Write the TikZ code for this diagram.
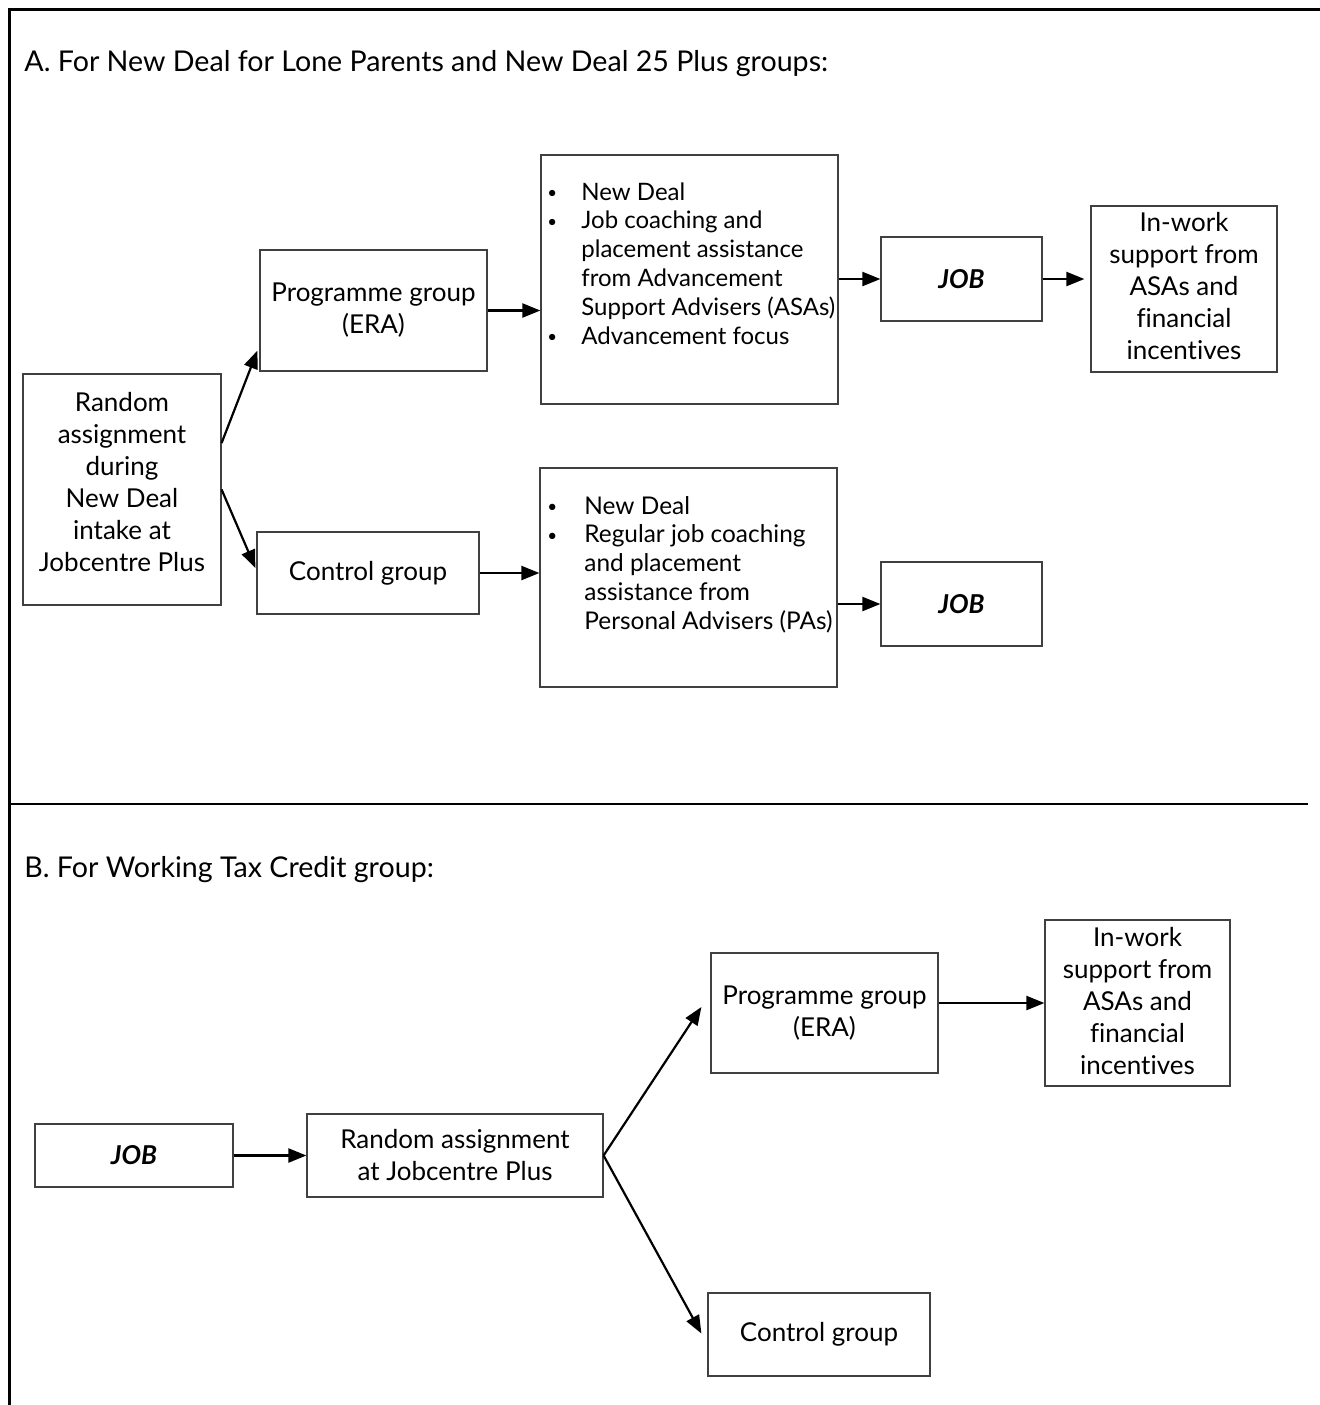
\documentclass[tikz,border=0pt]{standalone}
\usepackage{fontspec}
\setmainfont[Ligatures=NoCommon]{Lato}
\usetikzlibrary{arrows.meta,calc}
\newcommand\sbul{\raisebox{0.12ex}{\scalebox{0.7}{\textbullet}}}
\tikzset{
  box/.style={draw=black!75, line width=0.6pt, inner sep=0pt, align=center,
    font=\fontsize{13}{16}\selectfont},
  boxtxt/.style={inner sep=0pt, align=center, font=\fontsize{13}{16}\selectfont},
  arr/.style={line width=1.1pt, -{Triangle[length=9pt,width=7pt]}},
  title/.style={anchor=base west, inner sep=0pt, font=\fontsize{14.3}{17}\selectfont},
  blist/.style={anchor=base west, inner sep=0pt},
  jobtxt/.style={font=\fontsize{13}{16}\selectfont\bfseries\itshape}
}
\begin{document}
\begin{tikzpicture}[x=0.5pt,y=-0.5pt]
\useasboundingbox (0,0) rectangle (1320,1405);
\fill[white] (0,0) rectangle (1320,1405);
% frame
\draw[line width=1.5pt] (9.5,1420) -- (9.5,9.5) -- (1330,9.5);
\draw[line width=1.4pt] (9,804) -- (1308,804);

% titles
\node[title] (tA) at (24,71) {A. For New Deal for Lone Parents and New Deal 25 Plus groups:};
\node[title] (tB) at (24,877) {B. For Working Tax Credit group:};

% Part A boxes
\node[box, minimum width=99pt, minimum height=115.5pt] (rand) at (122,489.5) {};
\node[boxtxt] (randt) at (122,482)
  {Random\\assignment\\during\\New Deal\\intake at\\Jobcentre Plus};
\node[box, minimum width=113.5pt, minimum height=60.5pt] (pgA) at (373.5,310.5)
  {Programme group\\(ERA)};
\node[box, minimum width=148.5pt, minimum height=124.5pt] (b1) at (689.5,279.5) {};
\node[blist, font=\fontsize{12}{14.4}\selectfont] (b1t) at (547,200) {\begin{tabular}[t]{@{}p{17pt}@{}l@{}}
\sbul & New Deal\\
\sbul & Job coaching and\\
 & placement assistance\\
 & from Advancement\\
 & Support Advisers (ASAs)\\
\sbul & Advancement focus
\end{tabular}};
\node[box, jobtxt, minimum width=80.5pt, minimum height=42pt] (jobA) at (961.5,279) {JOB};
\node[box, minimum width=93pt, minimum height=83pt] (iwA) at (1184,289) {};
\node[boxtxt] (iwAt) at (1184,286)
  {In-work\\support from\\ASAs and\\financial\\incentives};
\node[box, minimum width=111pt, minimum height=41pt] (ctlA) at (368,573) {Control group};
\node[box, minimum width=148.5pt, minimum height=109.5pt] (b2) at (688.5,577.5) {};
\node[blist, font=\fontsize{12.2}{14.4}\selectfont] (b2t) at (547,514) {\begin{tabular}[t]{@{}p{18.5pt}@{}l@{}}
\sbul & New Deal\\
\sbul & Regular job coaching\\
 & and placement\\
 & assistance from\\
 & Personal Advisers (PAs)
\end{tabular}};
\node[box, jobtxt, minimum width=80.5pt, minimum height=42pt] (jobA2) at (961.5,604) {JOB};

% Part A arrows
\draw[arr] ([shift={(0,-46.5)}]rand.east) -- ([shift={(-2,-21)}]pgA.south west);
\draw[arr] (rand.east) -- ([shift={(-1,-5)}]ctlA.west);
\draw[arr] (pgA.east) -- (pgA.east -| b1.west);
\draw[arr] (b1.east |- jobA.west) -- (jobA.west);
\draw[arr] (jobA.east) -- ([xshift=-3pt]jobA.east -| iwA.west);
\draw[arr] (ctlA.east) -- (ctlA.east -| b2.west);
\draw[arr] (b2.east |- jobA2.west) -- (jobA2.west);

% Part B boxes
\node[box, minimum width=113.5pt, minimum height=60pt] (pgB) at (824.5,1013)
  {Programme group\\(ERA)};
\node[box, minimum width=92.5pt, minimum height=83pt] (iwB) at (1137.5,1003) {};
\node[boxtxt] (iwBt) at (1137.5,1001)
  {In-work\\support from\\ASAs and\\financial\\incentives};
\node[box, jobtxt, minimum width=99pt, minimum height=31.5pt] (jobB) at (134,1155.5) {JOB};
\node[box, minimum width=148pt, minimum height=41.5pt] (rndB) at (455,1155.5)
  {Random assignment\\at Jobcentre Plus};
\node[box, minimum width=111pt, minimum height=41.5pt] (ctlB) at (819,1334.5) {Control group};

% Part B arrows
\draw[arr] (jobB.east) -- (rndB.west);
\draw[arr] (rndB.east) -- ([shift={(-9,-6)}]pgB.west);
\draw[arr] (rndB.east) -- ([shift={(-6,-1)}]ctlB.west);
\draw[arr] ([shift={(0,-10)}]pgB.east) -- (iwB.west);
\end{tikzpicture}
\end{document}
